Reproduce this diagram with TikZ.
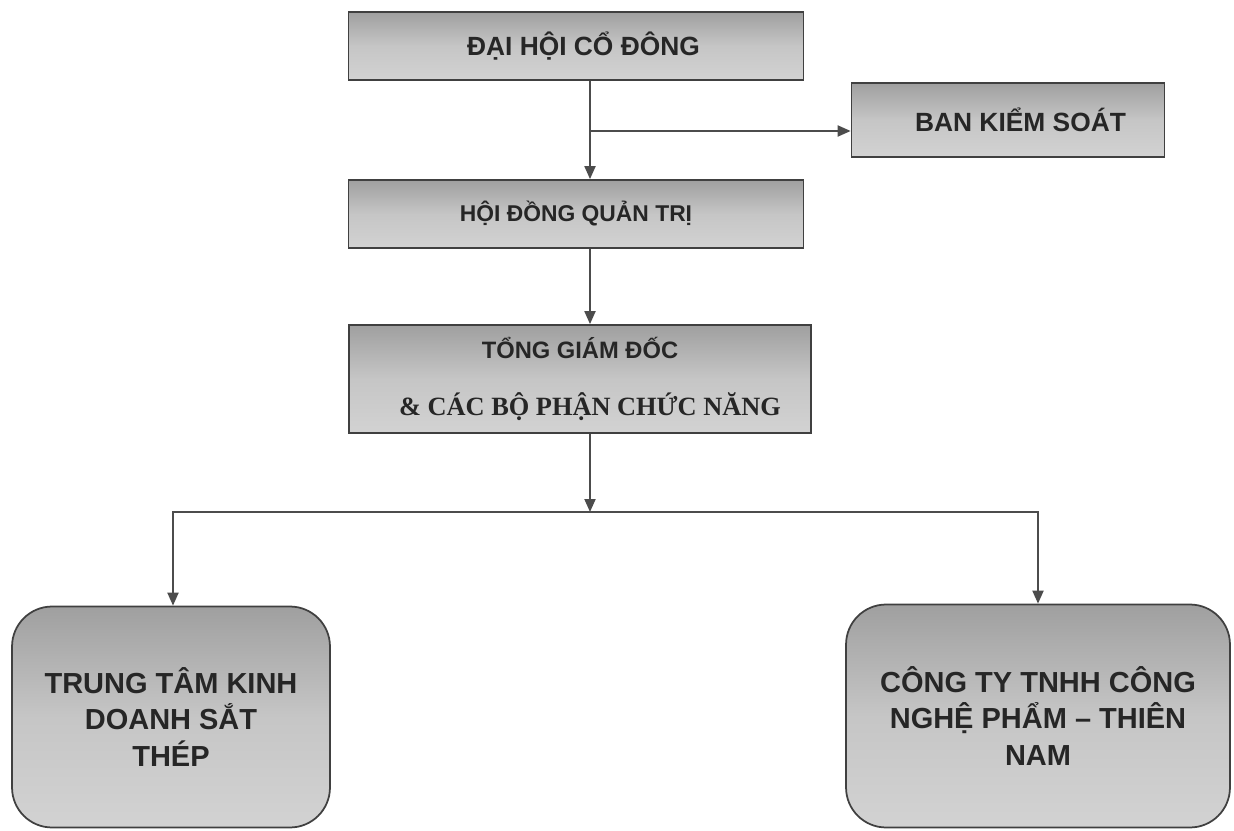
\documentclass[tikz,border=0pt]{standalone}
\usepackage{fontspec}
\setmainfont{Liberation Sans}
\newfontfamily\timesbf{Liberation Serif}
\usetikzlibrary{arrows.meta,positioning}

\begin{document}
\begin{tikzpicture}[x=0.02cm,y=-0.02cm,
    box/.style={draw=black!75, line width=1pt, top color=gray!75, bottom color=gray!35,
      middle color=gray!45, font=\bfseries, text=black!85, align=center, inner sep=0pt},
    link/.style={draw=black!70, line width=1.1pt},
    tip/.style={-{Triangle[length=2.6mm,width=2.2mm]}}]
  \useasboundingbox (0,0) rectangle (1234,831);
  \begin{scope}[every node/.style={box, font=\bfseries\fontsize{13}{15}\selectfont}]
    \node (DH)   [minimum width=9.1cm, minimum height=1.36cm, font=\bfseries\fontsize{15}{17}\selectfont] at (576,46) {\hspace*{0.3cm}ĐẠI HỘI CỔ ĐÔNG};
    \node (BKS)  [minimum width=6.26cm, minimum height=1.48cm, font=\bfseries\fontsize{15}{17}\selectfont] at (1008,120) {\hspace*{0.5cm}BAN KIỂM SOÁT};
    \node (HDQT) [minimum width=9.1cm, minimum height=1.36cm] at (576,214) {HỘI ĐỒNG QUẢN TRỊ};
    \node (TGD)  [minimum width=9.24cm, minimum height=2.16cm, font=\bfseries\fontsize{13.5}{15}\selectfont] at (580,379)
      {TỔNG GIÁM ĐỐC\\[0.6cm] {\timesbf\fontsize{15}{16}\selectfont\hspace*{0.4cm}\& CÁC BỘ PHẬN CHỨC NĂNG}};
  \end{scope}
  \begin{scope}[every node/.style={box, rounded corners=0.8cm, font=\bfseries\fontsize{16.5}{20.5}\selectfont}]
    \node (TTKD) [minimum width=6.36cm, minimum height=4.42cm] at (171,717) {TRUNG TÂM KINH\\DOANH SẮT\\THÉP};
    \node (CTY)  [minimum width=7.68cm, minimum height=4.46cm] at (1038,716) {CÔNG TY TNHH CÔNG\\NGHỆ PHẨM – THIÊN\\NAM};
  \end{scope}
  \coordinate (split) at (590,131);
  \coordinate (hub) at (590,512);
  \begin{scope}[every path/.style={link}]
    \draw[tip] (DH.south -| split) -- (HDQT.north -| split);
    \draw[tip] (split) -- (BKS.west |- split);
    \draw[tip] (HDQT.south -| split) -- (TGD.north -| split);
    \draw[tip] (TGD.south -| hub) -- (hub);
    \draw[tip] (hub) -| ([xshift=0.04cm]TTKD.north);
    \draw[tip] (hub) -| (CTY.north);
  \end{scope}
\end{tikzpicture}
\end{document}
